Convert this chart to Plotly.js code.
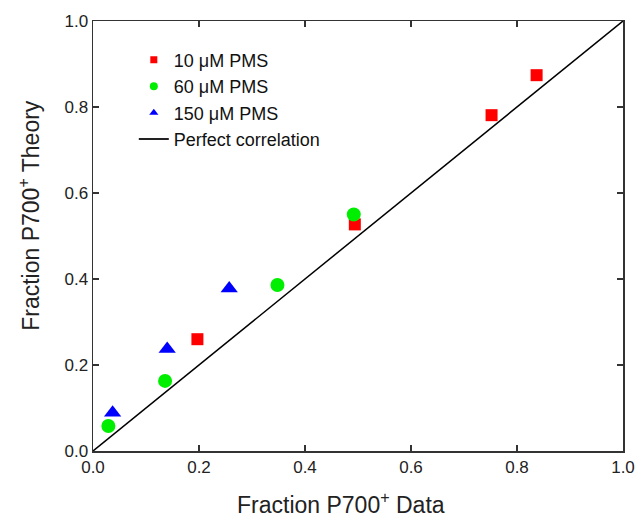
<!DOCTYPE html>
<html>
<head>
<meta charset="utf-8">
<script src="https://cdn.plot.ly/plotly-3.0.1.min.js"></script>
<style>html,body{margin:0;padding:0;background:#fff;}#chart{width:637px;height:518px;}</style>
</head>
<body>
<div id="chart"></div>
<script>
// Data
const pms10_x = [0.197, 0.494, 0.752, 0.837];
const pms10_y = [0.260, 0.527, 0.781, 0.874];
const pms60_x = [0.029, 0.136, 0.348, 0.492];
const pms60_y = [0.058, 0.163, 0.386, 0.550];
const pms150_x = [0.037, 0.140, 0.257];
const pms150_y = [0.089, 0.237, 0.378];
const line_x = [0, 1];
const line_y = [0, 1];
const tickVals = [0, 0.2, 0.4, 0.6, 0.8, 1.0];
const tickText = ['0.0', '0.2', '0.4', '0.6', '0.8', '1.0'];
const names = ['10 \u03bcM PMS', '60 \u03bcM PMS', '150 \u03bcM PMS', 'Perfect correlation'];
const xTitle = 'Fraction P700<sup>+</sup> Data';
const yTitle = 'Fraction P700<sup>+</sup> Theory';

const FONT = 'Liberation Sans, Arial, sans-serif';

const traces = [
  {x: line_x, y: line_y, mode: 'lines', line: {color: '#000', width: 1.5}, showlegend: false, hoverinfo: 'skip'},
  {x: pms10_x, y: pms10_y, mode: 'markers', marker: {symbol: 'square', size: 12, color: '#ff0000'}, showlegend: false},
  {x: pms60_x, y: pms60_y, mode: 'markers', marker: {symbol: 'circle', size: 14, color: '#00ee00'}, showlegend: false},
  {x: pms150_x, y: pms150_y, mode: 'markers', marker: {symbol: 'triangle-up', size: 15, color: '#0000ff'}, showlegend: false},
  // legend entries (smaller symbols, as in the reference legend)
  {x: [null], y: [null], mode: 'markers', name: names[0], marker: {symbol: 'square', size: 7, color: '#ff0000'}},
  {x: [null], y: [null], mode: 'markers', name: names[1], marker: {symbol: 'circle', size: 8, color: '#00ee00'}},
  {x: [null], y: [null], mode: 'markers', name: names[2], marker: {symbol: 'triangle-up', size: 8, color: '#0000ff'}},
  {x: [null], y: [null], mode: 'lines', name: names[3], line: {color: '#222', width: 2}}
];

const axisCommon = {
  range: [0, 1],
  tickvals: tickVals,
  ticktext: tickText,
  ticks: 'inside',
  ticklen: 6,
  tickwidth: 1.2,
  tickcolor: '#333',
  showline: true,
  linecolor: '#333',
  linewidth: 1.5,
  mirror: 'ticks',
  showgrid: false,
  zeroline: false,
  tickfont: {family: FONT, size: 17, color: '#222'}
};

const layout = {
  width: 637,
  height: 518,
  margin: {l: 93, r: 14, t: 21, b: 67},
  paper_bgcolor: '#fff',
  plot_bgcolor: '#fff',
  font: {family: FONT, color: '#222'},
  showlegend: true,
  legend: {
    x: 0.077, y: 0.952, xanchor: 'left', yanchor: 'top',
    font: {family: FONT, size: 18, color: '#111'},
    bgcolor: 'rgba(0,0,0,0)', borderwidth: 0,
    tracegroupgap: 0
  },
  xaxis: Object.assign({}, axisCommon),
  yaxis: Object.assign({}, axisCommon),
  annotations: [
    {text: xTitle, xref: 'paper', yref: 'paper', x: 0.468, y: -0.121, xanchor: 'center', yanchor: 'middle',
     showarrow: false, borderpad: 0, font: {family: FONT, size: 23, color: '#222'}},
    {text: yTitle, xref: 'paper', yref: 'paper', x: -0.121, y: 0.549, xanchor: 'center', yanchor: 'middle',
     textangle: -90, showarrow: false, borderpad: 0, font: {family: FONT, size: 23, color: '#222'}}
  ]
};

Plotly.newPlot('chart', traces, layout, {displayModeBar: false, staticPlot: true});
</script>
</body>
</html>
